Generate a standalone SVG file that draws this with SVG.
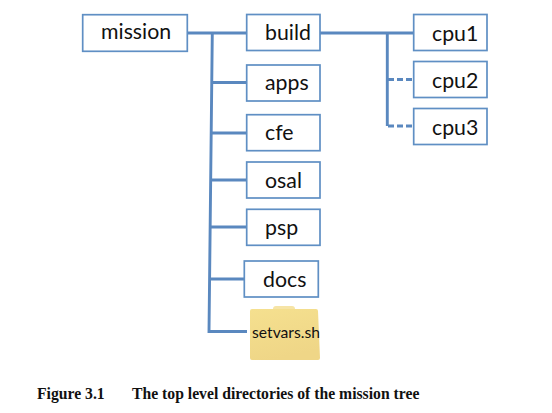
<svg xmlns="http://www.w3.org/2000/svg" width="552" height="413" viewBox="0 0 552 413">
<style>
.box{fill:#fff;stroke:#5f8fc4;stroke-width:1.7}
.lbl{font-family:"Lato","Liberation Sans",sans-serif;font-size:21.300px;fill:#111}
.cap{font-family:"Liberation Serif",serif;font-size:15.700px;font-weight:bold;fill:#111}
.ln{fill:none;stroke:#5a88bf;stroke-width:2.900}
.dash{stroke-dasharray:6 3}
</style>
<defs>
<linearGradient id="fg" x1="0" y1="0" x2="0.300" y2="1"><stop offset="0" stop-color="#f5e08f"/><stop offset="1" stop-color="#efd687"/></linearGradient>
</defs>
<rect width="552" height="413" fill="#fff"/>
<g id="connectors">
<path class="ln" d="M187 33H247"/>
<path class="ln" d="M212.300 33L209 331.500H247"/>
<path class="ln" d="M212 82.500H247M211.500 133H247M211 180H247M210.500 227H247M210 279H245"/>
<path class="ln" d="M320 33H414"/>
<path class="ln" d="M387.300 33V126"/>
<path class="ln dash" d="M388 79.500H414M388 126H414"/>
</g>
<g id="mission"><rect class="box" x="82.700" y="14.700" width="104.600" height="36.600"/><text class="lbl" x="101" y="39">mission</text></g>
<g id="build"><rect class="box" x="246.700" y="14.500" width="73.300" height="36"/><text class="lbl" x="265" y="40">build</text></g>
<g id="apps"><rect class="box" x="246.700" y="65" width="73.300" height="36"/><text class="lbl" x="265" y="90">apps</text></g>
<g id="cfe"><rect class="box" x="246.700" y="114.700" width="73.300" height="36"/><text class="lbl" x="265" y="140">cfe</text></g>
<g id="osal"><rect class="box" x="246.700" y="162" width="73.300" height="36"/><text class="lbl" x="265" y="188">osal</text></g>
<g id="psp"><rect class="box" x="246.700" y="209.300" width="73.300" height="36"/><text class="lbl" x="265" y="235">psp</text></g>
<g id="docs"><rect class="box" x="244.300" y="261" width="74" height="36"/><text class="lbl" x="263" y="287">docs</text></g>
<g id="cpu1"><rect class="box" x="413.700" y="14.500" width="73.300" height="36"/><text class="lbl" x="432" y="41">cpu1</text></g>
<g id="cpu2"><rect class="box" x="413.700" y="61.500" width="73.300" height="36"/><text class="lbl" x="432" y="88">cpu2</text></g>
<g id="cpu3"><rect class="box" x="413.700" y="108.500" width="73.300" height="36"/><text class="lbl" x="432" y="135">cpu3</text></g>
<g id="setvars">
<path fill="#f6e4a6" d="M273 309Q273 306 276 306H292Q295 306 295 309V311H273Z"/>
<path fill="url(#fg)" d="M252 309H316Q318 309 318 311L320 358Q320 360 318 360H252Q250 360 250 358V311Q250 309 252 309Z"/>
<text x="252" y="338" font-family="Lato,'Liberation Sans',sans-serif" font-size="15.700" fill="#111">setvars.sh</text>
</g>
<text class="cap" x="37" y="399">Figure 3.1</text>
<text class="cap" x="132" y="399">The top level directories of the mission tree</text>
</svg>
